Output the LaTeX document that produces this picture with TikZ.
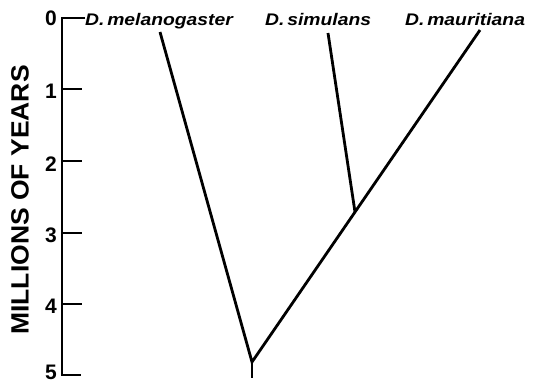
\documentclass[tikz,border=0pt]{standalone}
\usepackage{fontspec}
\setmainfont{Liberation Sans}
\newfontfamily\labfont[FakeStretch=1.15]{Liberation Sans}
\newfontfamily\titlefont[FakeStretch=1.06]{Liberation Sans}
\begin{document}
\begin{tikzpicture}[x=1pt,y=-1pt,
  branch/.style={line width=2.8pt,line cap=butt},
  axisline/.style={line width=2.4pt},
  species/.style={inner sep=0pt,anchor=base west,font=\labfont\bfseries\itshape\fontsize{16.8}{18}\selectfont},
  ticklabel/.style={inner sep=0pt,anchor=east,font=\bfseries\fontsize{21}{23}\selectfont},
  axtitle/.style={inner sep=0pt,rotate=90,font=\titlefont\bfseries\fontsize{25}{28}\selectfont}]
\useasboundingbox (0,0) rectangle (548,384);
% axis
\coordinate (a0) at (62,18);
\coordinate (a5) at (62,375);
\draw[axisline] (85,18) -- (a0) -- (a5) -- (81,375);
\foreach \i/\yy in {1/89,2/161,3/233,4/304}{
  \coordinate (t\i) at (62,\yy);
  \draw[axisline] (t\i) -- ++(20,0);
}
\node[ticklabel] (n0) at (57,18) {0};
\node[ticklabel] (n1) at (57,91) {1};
\node[ticklabel] (n2) at (57,164) {2};
\node[ticklabel] (n3) at (57,235) {3};
\node[ticklabel] (n4) at (57,306) {4};
\node[ticklabel] (n5) at (57,372) {5};
\node[axtitle] (title) at (20,200) {MILLIONS OF YEARS};
% species labels
\node[species] (lmel) at (85,25) {D.\,melanogaster};
\node[species] (lsim) at (265,25) {D.\,simulans};
\node[species] (lmau) at (405,25) {D.\,mauritiana};
% tree
\coordinate (mel) at (160,32);
\coordinate (sim) at (328,33);
\coordinate (mau) at (480,30);
\coordinate (simnode) at (355,212);
\coordinate (root) at (252,362);
\coordinate (stem) at (252,378);
\draw[branch] (mel) -- (root) -- (mau);
\draw[branch] (sim) -- (simnode);
\draw[branch] (root) -- (stem);
\end{tikzpicture}
\end{document}
